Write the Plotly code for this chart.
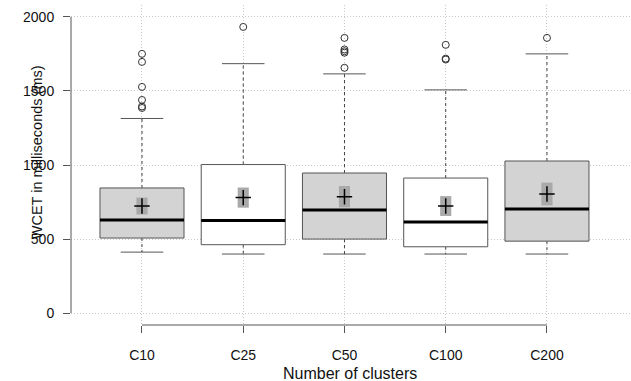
import plotly.graph_objects as go

categories = ["C10", "C25", "C50", "C100", "C200"]
q1 = [507, 462, 500, 448, 486]
median = [628, 625, 696, 615, 703]
q3 = [845, 1003, 946, 912, 1027]
lower_whisker = [412, 399, 399, 399, 399]
upper_whisker = [1314, 1684, 1615, 1507, 1750]
outliers = [
    [1750, 1696, 1527, 1439, 1395, 1385],
    [1932],
    [1858, 1780, 1768, 1758, 1656],
    [1811, 1718, 1712],
    [1858],
]
means = [723, 780, 786, 723, 804]
mean_ci = [57, 68, 72, 67, 77]
box_fill = ["#d3d3d3", "#ffffff", "#d3d3d3", "#ffffff", "#d3d3d3"]
y_ticks = [0, 500, 1000, 1500, 2000]

BOX_HALF = 0.415
CAP_HALF = 0.21
CI_HALF = 0.055
EDGE = "#555555"

fig = go.Figure()

for i, cat in enumerate(categories):
    x = i + 1
    # whiskers (dashed)
    fig.add_trace(go.Scatter(
        x=[x, x, None, x, x],
        y=[q3[i], upper_whisker[i], None, q1[i], lower_whisker[i]],
        mode="lines", line=dict(color="#444444", width=1, dash="3px,3px"),
        hoverinfo="skip"))
    # caps
    fig.add_trace(go.Scatter(
        x=[x - CAP_HALF, x + CAP_HALF, None, x - CAP_HALF, x + CAP_HALF],
        y=[upper_whisker[i], upper_whisker[i], None, lower_whisker[i], lower_whisker[i]],
        mode="lines", line=dict(color=EDGE, width=1), hoverinfo="skip"))
    # box
    fig.add_trace(go.Scatter(
        x=[x - BOX_HALF, x + BOX_HALF, x + BOX_HALF, x - BOX_HALF, x - BOX_HALF],
        y=[q1[i], q1[i], q3[i], q3[i], q1[i]],
        mode="lines", fill="toself", fillcolor=box_fill[i],
        line=dict(color=EDGE, width=1), name=cat))
    # median
    fig.add_trace(go.Scatter(
        x=[x - BOX_HALF, x + BOX_HALF], y=[median[i], median[i]],
        mode="lines", line=dict(color="#000000", width=3), hoverinfo="skip"))
    # mean confidence rect
    lo, hi = means[i] - mean_ci[i], means[i] + mean_ci[i]
    fig.add_trace(go.Scatter(
        x=[x - CI_HALF, x + CI_HALF, x + CI_HALF, x - CI_HALF, x - CI_HALF],
        y=[lo, lo, hi, hi, lo],
        mode="lines", fill="toself", fillcolor="#a9a9a9",
        line=dict(color="#a9a9a9", width=0), hoverinfo="skip"))
    # mean cross
    fig.add_trace(go.Scatter(
        x=[x], y=[means[i]], mode="markers",
        marker=dict(symbol="cross-thin", size=11, color="#000000",
                    line=dict(color="#000000", width=1.5)),
        hoverinfo="skip"))
    # outliers
    fig.add_trace(go.Scatter(
        x=[x] * len(outliers[i]), y=outliers[i], mode="markers",
        marker=dict(symbol="circle-open", size=7, color="#333333",
                    line=dict(color="#333333", width=1)),
        hoverinfo="skip"))

# axis lines (R style: span first to last tick)
fig.add_shape(type="line", xref="paper", yref="y", x0=0, x1=0,
              y0=min(y_ticks), y1=max(y_ticks), line=dict(color=EDGE, width=1))
fig.add_shape(type="line", xref="x", yref="paper", x0=1, x1=len(categories),
              y0=0, y1=0, line=dict(color=EDGE, width=1))

font = dict(family="Liberation Sans, Arial, sans-serif", size=14, color="#111111")
GRID = dict(showgrid=True, gridcolor="#c8c8c8", griddash="1px,2px", gridwidth=1)

fig.update_layout(
    width=631, height=381,
    margin=dict(l=71, r=0, t=5, b=56),
    paper_bgcolor="white", plot_bgcolor="white",
    showlegend=False,
    font=font,
    xaxis=dict(
        range=[0.2988, 5.83],
        tickmode="array", tickvals=list(range(1, len(categories) + 1)), ticktext=categories,
        ticks="outside", ticklen=7, tickcolor=EDGE, tickwidth=1,
        zeroline=False, showline=False, ticklabelstandoff=10, **GRID,
    ),
    yaxis=dict(
        range=[-80, 2080],
        tickmode="array", tickvals=y_ticks, ticktext=[str(v) for v in y_ticks],
        ticks="outside", ticklen=7, tickcolor=EDGE, tickwidth=1,
        zeroline=False, showline=False, ticklabelstandoff=6, **GRID,
    ),
    annotations=[
        dict(text="Number of clusters", xref="paper", yref="paper",
             x=0.498, y=-0.15, xanchor="center", yanchor="middle",
             showarrow=False, font=dict(family=font["family"], size=16, color="#111111")),
        dict(text="WCET in milliseconds (ms)", xref="paper", yref="paper",
             x=-0.0607, y=0.54, xanchor="center", yanchor="middle", textangle=-90,
             showarrow=False, font=dict(family=font["family"], size=14.5, color="#111111")),
    ],
)

fig.write_html("out.html", config={"displayModeBar": False},
               post_script="document.body.style.margin='0';")
